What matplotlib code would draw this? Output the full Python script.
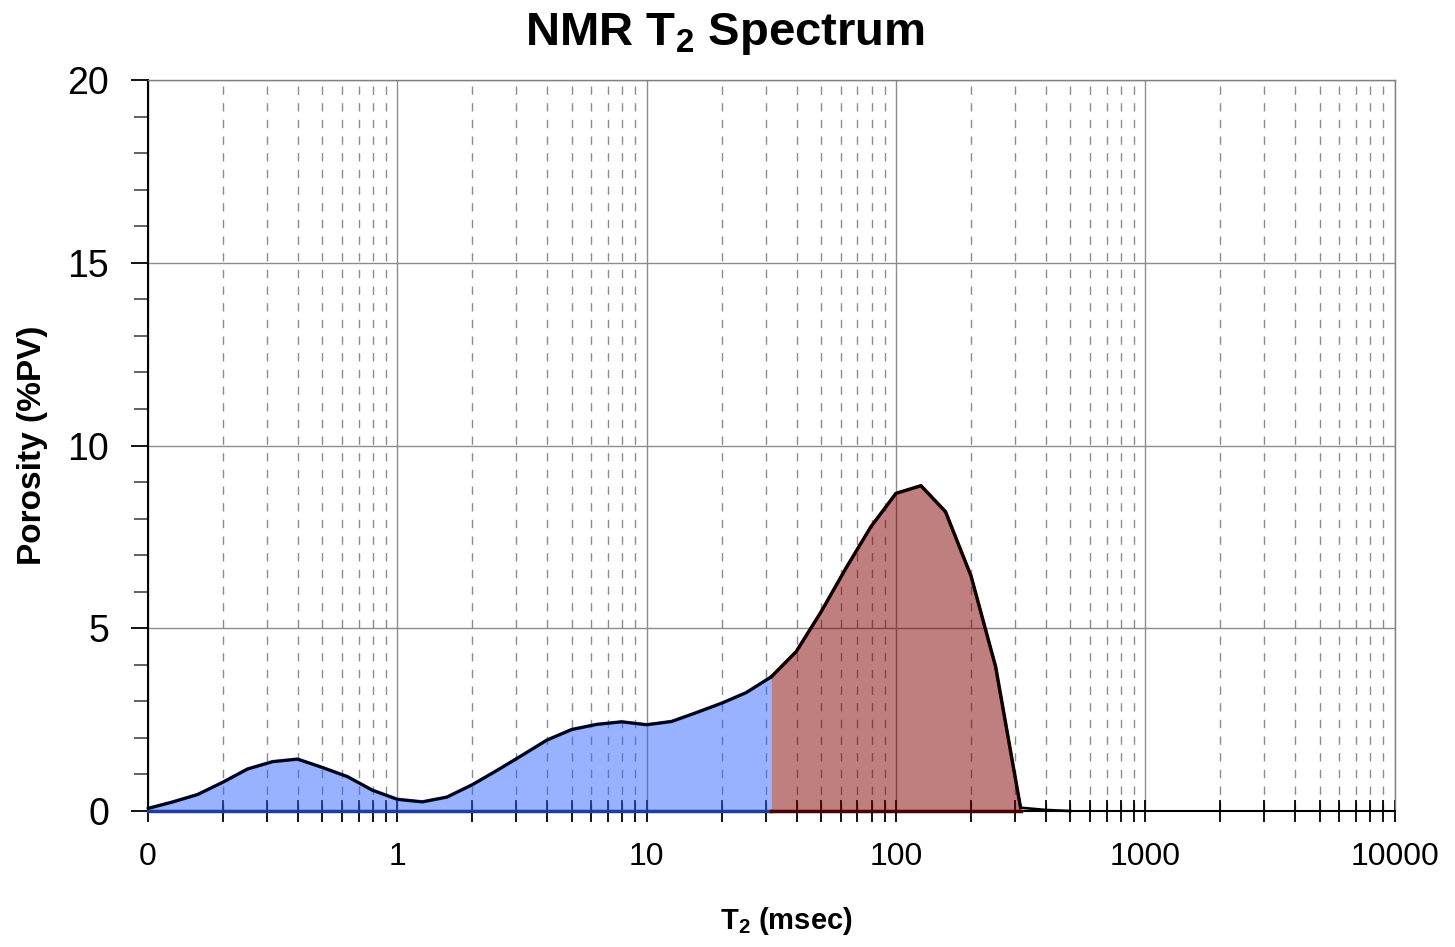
#!/usr/bin/env python3
"""NMR T2 spectrum chart: porosity distribution vs T2 relaxation time."""

import matplotlib
matplotlib.use("Agg")
import matplotlib.pyplot as plt
from matplotlib.ticker import FixedLocator, FixedFormatter, MultipleLocator, LogLocator

plt.rcParams["font.family"] = ["Liberation Sans", "DejaVu Sans"]
plt.rcParams["mathtext.default"] = "regular"

# T2 bins (msec), 10 per decade
t2 = [0.1, 0.126, 0.158, 0.2, 0.251, 0.316, 0.398, 0.501, 0.631, 0.794,
      1.0, 1.26, 1.58, 2.0, 2.51, 3.16, 3.98, 5.01, 6.31, 7.94,
      10.0, 12.6, 15.8, 20.0, 25.1, 31.6, 39.8, 50.1, 63.1, 79.4,
      100.0, 126.0, 158.0, 200.0, 251.0, 316.0, 398.0, 501.0]
# Porosity (%PV)
porosity = [0.07, 0.25, 0.45, 0.79, 1.15, 1.35, 1.42, 1.19, 0.94, 0.57,
            0.32, 0.25, 0.38, 0.72, 1.11, 1.52, 1.94, 2.23, 2.37, 2.44,
            2.36, 2.45, 2.69, 2.95, 3.24, 3.67, 4.36, 5.45, 6.65, 7.78,
            8.69, 8.90, 8.19, 6.43, 3.95, 0.09, 0.03, 0.0]

t2_cutoff = 31.6  # bound vs free fluid split
x_ticks = [0.1, 1, 10, 100, 1000, 10000]
x_tick_labels = ["0", "1", "10", "100", "1000", "10000"]


def main():
    fig = plt.figure(figsize=(14.55, 9.47), dpi=100, facecolor="white")
    ax = fig.add_axes([0.1017, 0.1436, 0.8568, 0.7719])

    bound_x = [x for x in t2 if x <= t2_cutoff]
    bound_y = porosity[:len(bound_x)]
    i0 = len(bound_x) - 1
    i1 = t2.index(316.0) + 1
    free_x = t2[i0:i1]
    free_y = porosity[i0:i1]

    # Fills (translucent so the grid shows through)
    ax.fill_between(bound_x, 0, bound_y, color="#3366FF", alpha=0.5, linewidth=0, zorder=3)
    ax.fill_between(free_x, 0, free_y, color="#800000", alpha=0.5, linewidth=0, zorder=3)

    # Area edges
    ax.plot(bound_x, bound_y, color="#1F3F9F", linewidth=2.5, zorder=4)
    ax.plot(free_x, free_y, color="#4A0000", linewidth=2.5, zorder=4)
    ax.plot([bound_x[0], bound_x[-1]], [0, 0], color="#1F3F9F", linewidth=2.5,
            zorder=4, clip_on=False)
    ax.plot([free_x[0], free_x[-1]], [0, 0], color="#4A0000", linewidth=2.5,
            zorder=4, clip_on=False)

    # Spectrum line
    ax.plot(t2, porosity, color="black", linewidth=1.9, zorder=5, clip_on=False)

    # Axes
    ax.set_xscale("log")
    ax.set_xlim(0.1, 10000)
    ax.set_ylim(0, 20)

    ax.xaxis.set_major_locator(FixedLocator(x_ticks))
    ax.xaxis.set_major_formatter(FixedFormatter(x_tick_labels))
    ax.xaxis.set_minor_locator(LogLocator(base=10, subs=range(2, 10), numticks=20))
    ax.yaxis.set_major_locator(MultipleLocator(5))
    ax.yaxis.set_minor_locator(MultipleLocator(1))

    ax.tick_params(axis="x", which="both", direction="inout", length=16, width=1.3,
                   labelsize=23, pad=14)
    ax.tick_params(axis="x", which="minor", labelbottom=False)
    ax.tick_params(axis="y", which="major", direction="out", length=12, width=1.3,
                   labelsize=27, pad=16)
    ax.tick_params(axis="y", which="minor", direction="out", length=10, width=1.3,
                   color="#555555")

    # Grid
    ax.grid(True, which="major", axis="both", color="#8c8c8c", linewidth=1.0,
            linestyle="-", zorder=1)
    ax.grid(True, which="minor", axis="x", color="#8c8c8c", linewidth=1.0,
            linestyle=(0, (6, 6)), zorder=1)
    ax.set_axisbelow(True)

    # Spines
    for side in ["left", "bottom"]:
        ax.spines[side].set_linewidth(1.5)
        ax.spines[side].set_color("black")
    for side in ["top", "right"]:
        ax.spines[side].set_linewidth(1.0)
        ax.spines[side].set_color("#808080")

    # Labels
    fig.text(0.498, 0.9525, "NMR T$_2$ Spectrum", fontsize=34, fontweight="bold",
             ha="center", va="baseline")
    ax.set_xlabel("T$_2$ (msec)", fontsize=21, fontweight="bold")
    ax.xaxis.set_label_coords(0.512, -0.128)
    ax.set_ylabel("Porosity (%PV)", fontsize=24, fontweight="bold", labelpad=14)

    fig.savefig("out.png", dpi=100, facecolor="white")
    plt.close(fig)


if __name__ == "__main__":
    main()
